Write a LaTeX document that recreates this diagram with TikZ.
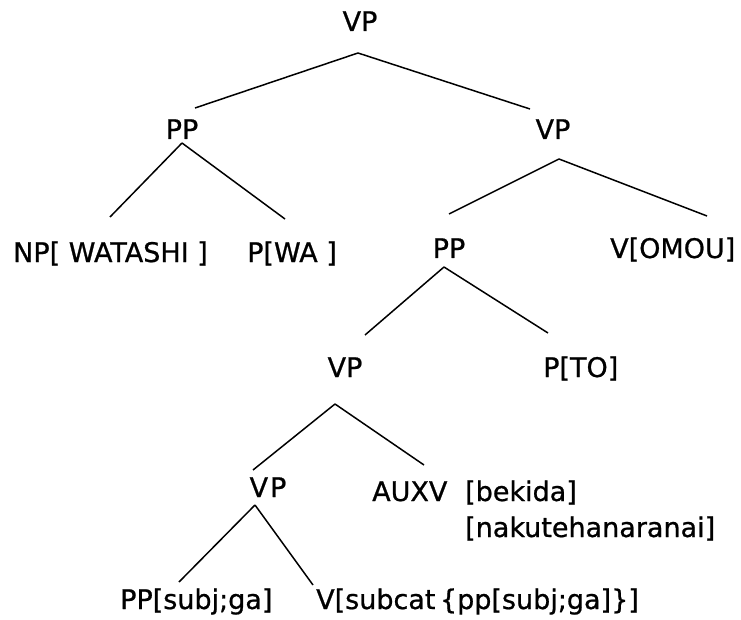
\documentclass[tikz,border=0pt]{standalone}
\usepackage{fontspec}
\setmainfont[FakeBold=0.8]{DejaVu Sans}
\usepackage{tikz}

\begin{document}
\begin{tikzpicture}[x=1pt, y=-1pt,
        cat/.style={inner sep=0pt, anchor=base, font=\fontsize{27}{32}\selectfont},
        leaf/.style={inner sep=0pt, anchor=base west, font=\fontsize{27}{32}\selectfont},
        branch/.style={line width=1.5pt, black}]
    \useasboundingbox (0,0) rectangle (741,620);

    % Categories
    \node[cat] (vp0) at (360,31) {VP};
    \node[cat] (pp1) at (182,139) {PP};
    \node[cat] (vp1) at (553,139) {VP};
    \node[cat] (pp2) at (449,258) {PP};
    \node[cat] (vp2) at (345,377) {VP};
    \node[cat] (vp3) at (268,497) {V\kern2pt P};

    % Leaves
    \node[leaf] (np) at (13,262) {NP[ WATASHI ]};
    \node[leaf] (pwa) at (247,262) {P[WA ]};
    \node[leaf] (vomou) at (610,258) {V[OMOU]};
    \node[leaf] (pto) at (543,377) {P[TO]};
    \node[leaf] (auxv) at (372,501) {AUXV};
    \node[leaf] (bekida) at (465,501) {[bekida]};
    \node[leaf] (nakute) at (465,537) {[nakutehanaranai]};
    \node[leaf] (ppsubj) at (120,609) {PP[subj;ga]};
    \node[leaf] (vsub) at (316,609) {V[subcat\,\{pp[subj;ga]\}]};

    % Branches
    \foreach \p/\px/\py/\c/\cx/\cy in {
        vp0.base/-2/-22/pp1.base/13/31,
        vp0.base/-2/-22/vp1.base/-23/30,
        pp1.base/0/-4/np.base west/97/45,
        pp1.base/0/-4/pwa.base west/38/43,
        vp1.base/6/-20/pp2.base/0/44,
        vp1.base/6/-20/vomou.base west/97/42,
        pp2.base/-5/-9/vp2.base/20/42,
        pp2.base/-5/-9/pto.base west/5/44,
        vp2.base/-10/-27/vp3.base/-15/27,
        vp2.base/-10/-27/auxv.base west/52/36,
        vp3.base/-13/-8/ppsubj.base west/59/27,
        vp3.base/-13/-8/vsub.base west/-3/24
    } {
        \draw[branch] ([xshift=\px pt, yshift=\py pt]\p) -- ([xshift=\cx pt, yshift=\cy pt]\c);
    }
\end{tikzpicture}
\end{document}
